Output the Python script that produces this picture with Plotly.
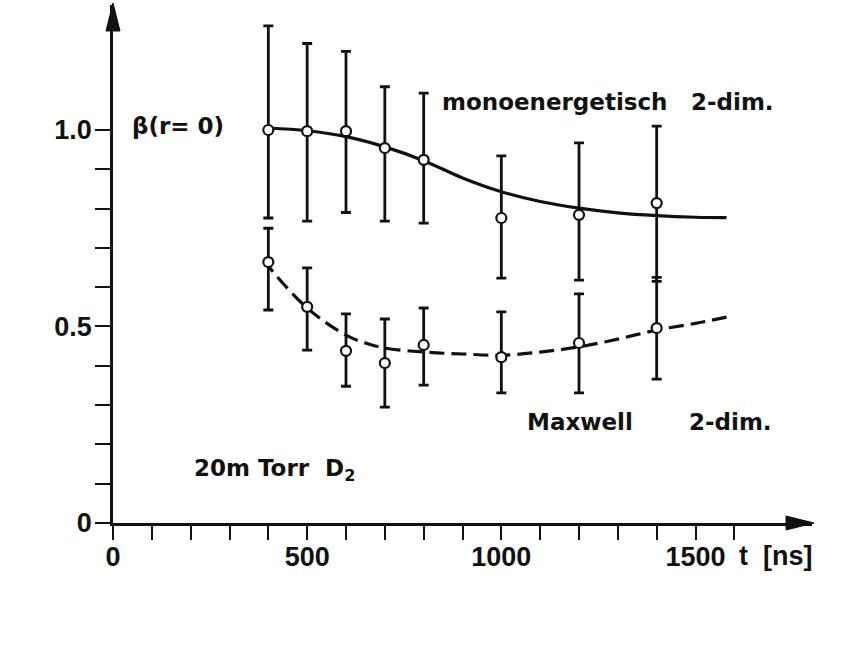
import plotly.graph_objects as go

# ---- data ----
t_points = [400, 500, 600, 700, 800, 1000, 1200, 1400]

mono_vals = [1.00, 0.997, 0.997, 0.954, 0.924, 0.776, 0.784, 0.814]
mono_hi = [1.265, 1.22, 1.20, 1.11, 1.094, 0.934, 0.967, 1.01]
mono_lo = [0.776, 0.768, 0.79, 0.768, 0.763, 0.623, 0.618, 0.615]

maxw_vals = [0.664, 0.55, 0.438, 0.407, 0.453, 0.422, 0.458, 0.496]
maxw_hi = [0.75, 0.649, 0.532, 0.519, 0.547, 0.537, 0.583, 0.625]
maxw_lo = [0.542, 0.44, 0.348, 0.295, 0.351, 0.331, 0.331, 0.366]

mono_curve_t = [400, 500, 600, 700, 800, 900, 1000, 1100, 1200, 1300, 1400, 1500, 1580]
mono_curve = [1.005, 0.998, 0.983, 0.957, 0.922, 0.878, 0.843, 0.818, 0.801, 0.789, 0.782, 0.778, 0.777]

maxw_curve_t = [390, 400, 500, 600, 650, 700, 800, 900, 1000, 1100, 1200, 1300, 1400, 1500, 1580]
maxw_curve = [0.67, 0.654, 0.547, 0.478, 0.458, 0.445, 0.435, 0.43, 0.427, 0.435, 0.448, 0.468, 0.491, 0.508, 0.524]

x_tickvals = list(range(0, 1700, 100))
x_ticktext = ["0" if v == 0 else (str(v) if v % 500 == 0 else "") for v in x_tickvals]
y_tickvals = [0, 0.1, 0.2, 0.3, 0.4, 0.5, 0.6, 0.7, 0.8, 0.9, 1.0]
y_ticktext = ["0", "", "", "", "", "0.5", "", "", "", "", "1.0"]

FONT = "DejaVu Sans"
NUMFONT = "Liberation Sans, Arial, sans-serif"
INK = "#111111"

fig = go.Figure()

# fitted curves
fig.add_trace(go.Scatter(x=mono_curve_t, y=mono_curve, mode="lines",
                         line=dict(color=INK, width=3.2, shape="spline", smoothing=1.0),
                         showlegend=False, hoverinfo="skip"))
fig.add_trace(go.Scatter(x=maxw_curve_t, y=maxw_curve, mode="lines",
                         line=dict(color=INK, width=3.2, shape="spline", dash="15px,7px"),
                         showlegend=False, hoverinfo="skip"))


def errs(vals, hi, lo):
    return ([h - v for v, h in zip(vals, hi)], [v - l for v, l in zip(vals, lo)])


for vals, hi, lo in [(mono_vals, mono_hi, mono_lo), (maxw_vals, maxw_hi, maxw_lo)]:
    up, down = errs(vals, hi, lo)
    fig.add_trace(go.Scatter(
        x=t_points, y=vals, mode="markers",
        marker=dict(symbol="circle", size=10, color="white",
                    line=dict(color=INK, width=2.2)),
        error_y=dict(type="data", symmetric=False, array=up, arrayminus=down,
                     color=INK, thickness=2.8, width=5),
        showlegend=False))

afont = dict(family=FONT, size=23, color=INK)
annotations = [
    dict(x=44, y=1.01, text="<b>β(r= 0)</b>", xanchor="left", yanchor="middle"),
    dict(x=842, y=1.072, text="<b>monoenergetisch</b>", xanchor="left", yanchor="middle"),
    dict(x=1482, y=1.072, text="<b>2-dim.</b>", xanchor="left", yanchor="middle"),
    dict(x=1060, y=0.257, text="<b>Maxwell</b>", xanchor="left", yanchor="middle"),
    dict(x=1478, y=0.257, text="<b>2-dim.</b>", xanchor="left", yanchor="middle"),
    dict(x=203, y=0.135, text="<b>20m Torr  D<sub>2</sub></b>", xanchor="left", yanchor="middle"),
]
for a in annotations:
    a.update(xref="x", yref="y", showarrow=False, font=afont)
annotations.append(dict(x=1608, y=-0.084 / 1.318, xref="x", yref="paper",
                        text="<b>t  [ns]</b>", xanchor="left", yanchor="middle",
                        showarrow=False, font=dict(family=NUMFONT, size=27, color=INK)))

tickfont = dict(family=NUMFONT, size=27, color=INK, weight="bold")

fig.update_layout(
    width=841, height=666,
    margin=dict(l=113, r=29, t=5, b=143),
    paper_bgcolor="white", plot_bgcolor="white",
    font=dict(family=FONT, color=INK, size=24),
    annotations=annotations,
    xaxis=dict(range=[0, 1800], showgrid=False, zeroline=False,
               showline=True, linecolor=INK, linewidth=2.5,
               tickmode="array", tickvals=x_tickvals, ticktext=x_ticktext,
               tickangle=0,
               ticks="outside", ticklen=14, tickwidth=2, tickcolor=INK,
               ticklabelstandoff=-6,
               tickfont=tickfont),
    yaxis=dict(range=[0, 1.318], showgrid=False, zeroline=False,
               showline=True, linecolor=INK, linewidth=2.5,
               tickmode="array", tickvals=y_tickvals, ticktext=y_ticktext,
               tickangle=0,
               ticks="outside", ticklen=15, tickwidth=2, tickcolor=INK,
               ticklabelstandoff=-2,
               tickfont=tickfont),
    shapes=[
        dict(type="path", xref="paper", yref="paper",
             xsizemode="pixel", ysizemode="pixel", xanchor=0, yanchor=1,
             path="M 0,2 L -7,-26 L 7,-26 Z",
             fillcolor=INK, line=dict(color=INK, width=1)),
        dict(type="path", xref="paper", yref="paper",
             xsizemode="pixel", ysizemode="pixel", xanchor=1, yanchor=0,
             path="M 2,0 L -26,7 L -26,-7 Z",
             fillcolor=INK, line=dict(color=INK, width=1)),
    ],
)

fig.write_html("out.html")
